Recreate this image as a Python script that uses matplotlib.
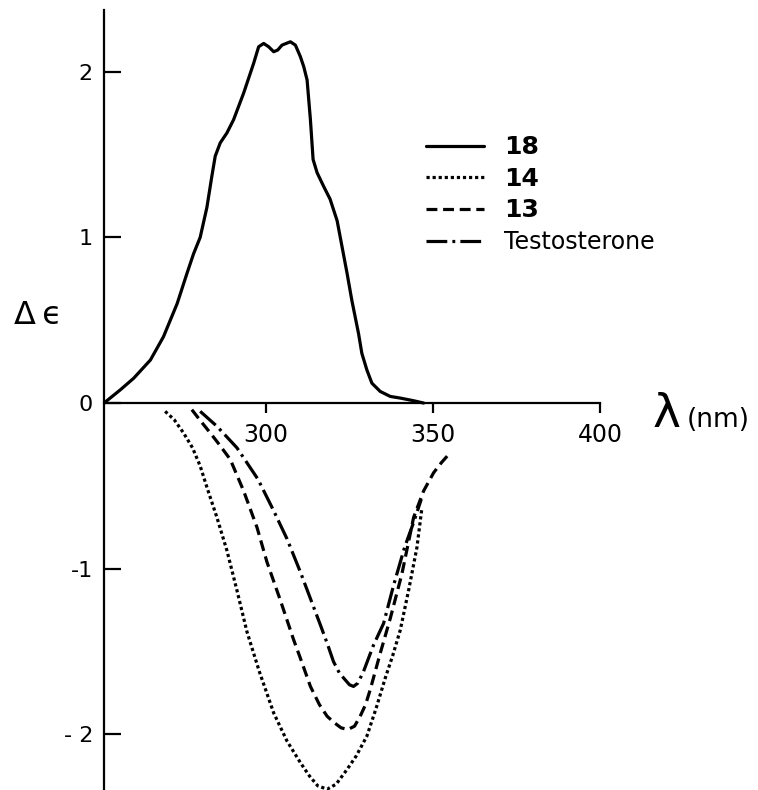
import matplotlib
matplotlib.use("Agg")
import matplotlib.pyplot as plt

plt.rcParams['axes.unicode_minus'] = False
plt.rcParams['font.family'] = ['DejaVu Sans']

# ---- data (wavelength nm, delta epsilon) ----
wl_18 = [251.5, 256.4, 260.4, 265.4, 269.3, 273.4, 276.3, 278.3, 280.3, 282.3, 283.8,
         284.8, 286.3, 288.3, 290.3, 293.3, 296.3, 297.8, 299.3, 300.8, 302.3, 303.5,
         304.8, 307.3, 308.8, 310.3, 311.3, 312.3, 313.3, 314.1, 315.3, 317.2, 319.2,
         321.3, 322.8, 324.3, 325.7, 326.7, 327.7, 328.7, 330.2, 331.7, 334.2, 337.2,
         340.2, 344.2, 347.2]
de_18 = [0.00, 0.08, 0.15, 0.26, 0.40, 0.60, 0.78, 0.90, 1.00, 1.18, 1.37,
         1.49, 1.57, 1.63, 1.71, 1.87, 2.05, 2.15, 2.17, 2.15, 2.12, 2.13,
         2.16, 2.18, 2.16, 2.09, 2.03, 1.95, 1.71, 1.47, 1.39, 1.31, 1.23,
         1.10, 0.94, 0.78, 0.62, 0.52, 0.42, 0.30, 0.20, 0.12, 0.07, 0.04,
         0.03, 0.014, 0.00]

wl_14 = [269.8, 272.5, 275.3, 278.0, 280.3, 282.5, 285.3, 288.3, 291.3, 294.3, 298.0,
         302.3, 306.3, 310.3, 313.0, 315.5, 318.3, 321.0, 324.3, 327.0, 330.2, 333.0,
         335.7, 338.0, 340.2, 342.8, 345.2, 346.7]
de_14 = [-0.05, -0.10, -0.18, -0.27, -0.38, -0.52, -0.69, -0.89, -1.13, -1.38, -1.62,
         -1.87, -2.04, -2.17, -2.25, -2.31, -2.33, -2.30, -2.21, -2.13, -2.01, -1.84,
         -1.66, -1.52, -1.37, -1.12, -0.87, -0.63]

wl_13 = [277.8, 280.5, 283.3, 286.0, 289.3, 293.3, 297.3, 300.3, 304.3, 308.3, 310.3,
         313.3, 316.0, 318.3, 320.5, 322.5, 324.5, 326.5, 328.2, 329.8, 331.2, 334.2,
         337.2, 340.7, 344.2, 347.2, 350.2, 352.5, 354.7]
de_13 = [-0.04, -0.11, -0.18, -0.25, -0.34, -0.53, -0.75, -0.96, -1.19, -1.43, -1.54,
         -1.71, -1.82, -1.89, -1.93, -1.96, -1.97, -1.95, -1.89, -1.82, -1.73, -1.51,
         -1.30, -1.03, -0.69, -0.53, -0.42, -0.36, -0.31]

wl_t = [280.3, 285.3, 291.3, 297.6, 302.3, 306.3, 310.3, 313.3, 316.3, 318.5, 320.2,
        322.0, 323.7, 325.0, 326.2, 327.5, 329.2, 332.2, 335.2, 338.2, 341.5, 344.2, 346.5]
de_t = [-0.05, -0.14, -0.27, -0.46, -0.65, -0.82, -1.02, -1.18, -1.34, -1.46, -1.56,
        -1.63, -1.67, -1.70, -1.71, -1.69, -1.62, -1.46, -1.33, -1.10, -0.87, -0.72, -0.58]

series_labels = ["18", "14", "13", "Testosterone"]
x_ticks = [300, 350, 400]
y_ticks = [-2, -1, 0, 1, 2]
y_ticklabels = ["- 2", "-1", "0", "1", "2"]

# ---- figure ----
W, H = 758, 790
fig = plt.figure(figsize=(W / 100, H / 100), dpi=100)
ax = fig.add_axes([104 / W, 0.0, 496 / W, 779.7 / H])

lw = 2.3
common = dict(color="black", lw=lw, solid_joinstyle="round", dash_joinstyle="round",
              solid_capstyle="round", dash_capstyle="butt")
h18, = ax.plot(wl_18, de_18, **common)
h14, = ax.plot(wl_14, de_14, linestyle=(0, (1.0, 0.9)), **common)
h13, = ax.plot(wl_13, de_13, linestyle=(0, (3.4, 1.8)), **common)
ht, = ax.plot(wl_t, de_t, linestyle=(0, (6.5, 1.6, 0.9, 1.6)), **common)

ax.set_xlim(251.5, 400)
ax.set_ylim(-2.335, 2.37)

for s in ["top", "right"]:
    ax.spines[s].set_visible(False)
ax.spines["bottom"].set_position(("data", 0))
ax.spines["left"].set_linewidth(1.6)
ax.spines["bottom"].set_linewidth(1.6)

ax.set_xticks(x_ticks)
ax.set_xticklabels([str(v) for v in x_ticks])
ax.set_yticks(y_ticks)
ax.set_yticklabels(y_ticklabels)
ax.tick_params(axis="x", direction="out", length=7.5, width=1.6, labelsize=17, pad=7)
ax.tick_params(axis="y", direction="in", length=12, width=1.6, labelsize=16, pad=8)

ax.set_ylabel("Δ\u2009ϵ", rotation=0, fontsize=23, va="center", ha="center")
ax.yaxis.set_label_coords(-0.133, 0.609)

ax.text(1.107, 0.4656, "λ", transform=ax.transAxes, fontsize=34,
        ha="left", va="baseline", clip_on=False)
ax.text(1.175, 0.4656, "(nm)", transform=ax.transAxes, fontsize=19,
        ha="left", va="baseline", clip_on=False)

leg = ax.legend([h18, h14, h13, ht], series_labels, loc="upper left",
                bbox_to_anchor=(0.630, 0.852), frameon=False, fontsize=17,
                handlelength=2.45, handletextpad=0.85, labelspacing=0.32,
                borderaxespad=0)
for i, t in enumerate(leg.get_texts()):
    if i < 3:
        t.set_fontweight("bold")
        t.set_fontsize(18)

fig.savefig("out.png", dpi=100)
